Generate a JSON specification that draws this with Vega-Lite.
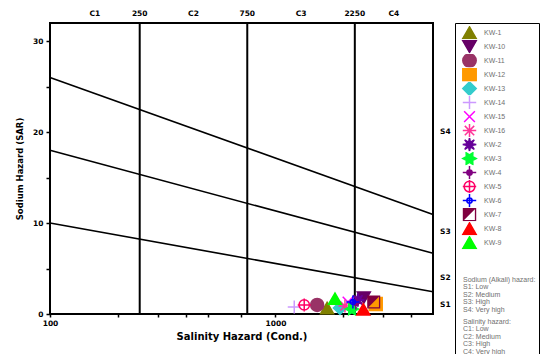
{
  "$schema": "https://vega.github.io/schema/vega-lite/v6.json",
  "width": 383,
  "height": 291,
  "autosize": "none",
  "padding": {"left": 50, "top": 23, "right": 110, "bottom": 40},
  "background": "white",
  "config": {
    "view": {"stroke": "black", "strokeWidth": 2},
    "axis": {
      "grid": false,
      "domain": false,
      "labelFont": "DejaVu Sans",
      "labelFontWeight": "bold",
      "labelFontSize": 7.5,
      "labelColor": "black",
      "tickColor": "black",
      "tickWidth": 1.5,
      "titleFont": "DejaVu Sans",
      "titleFontWeight": "bold",
      "titleColor": "black",
      "labelFlush": false,
      "labelOverlap": false
    }
  },
  "datasets": {
    "boundaries": [
      {"boundary": "S1/S2", "ec": 100, "sar": 10.0},
      {"boundary": "S1/S2", "ec": 5000, "sar": 2.45},
      {"boundary": "S2/S3", "ec": 100, "sar": 18.0},
      {"boundary": "S2/S3", "ec": 5000, "sar": 6.67},
      {"boundary": "S3/S4", "ec": 100, "sar": 26.0},
      {"boundary": "S3/S4", "ec": 5000, "sar": 10.95}
    ],
    "cuts": [
      {"ec": 250},
      {"ec": 750},
      {"ec": 2250}
    ],
    "classTop": [
      {"label": "C1", "ec": 158},
      {"label": "250", "ec": 250},
      {"label": "C2", "ec": 433},
      {"label": "750", "ec": 750},
      {"label": "C3", "ec": 1299},
      {"label": "2250", "ec": 2250},
      {"label": "C4", "ec": 3354}
    ],
    "classRight": [
      {"label": "S1", "sar": 1},
      {"label": "S2", "sar": 4},
      {"label": "S3", "sar": 9},
      {"label": "S4", "sar": 20}
    ],
    "samples": [
      {"sample": "KW-1", "ec": 1695, "sar": 0.66},
      {"sample": "KW-10", "ec": 2466, "sar": 1.79},
      {"sample": "KW-11", "ec": 1531, "sar": 1.0},
      {"sample": "KW-12", "ec": 2785, "sar": 1.1},
      {"sample": "KW-13", "ec": 1933, "sar": 0.66},
      {"sample": "KW-14", "ec": 1212, "sar": 0.77},
      {"sample": "KW-15", "ec": 2097, "sar": 1.32},
      {"sample": "KW-16", "ec": 2034, "sar": 0.88},
      {"sample": "KW-2", "ec": 2321, "sar": 1.54},
      {"sample": "KW-3", "ec": 2184, "sar": 0.55},
      {"sample": "KW-4", "ec": 2274, "sar": 1.21},
      {"sample": "KW-5", "ec": 1342, "sar": 1.0},
      {"sample": "KW-6", "ec": 2206, "sar": 1.32},
      {"sample": "KW-7", "ec": 2729, "sar": 1.32},
      {"sample": "KW-8", "ec": 2455, "sar": 0.52},
      {"sample": "KW-9", "ec": 1837, "sar": 1.68}
    ]
  },
  "layer": [
    {
      "data": {"name": "boundaries"},
      "mark": {"type": "line", "color": "black", "strokeWidth": 1.6},
      "encoding": {
        "x": {
          "field": "ec", "type": "quantitative",
          "scale": {"type": "log", "domain": [100, 5000], "nice": false},
          "axis": {
            "values": [100, 200, 300, 400, 500, 700, 1000, 2000, 3000, 4000],
            "labelExpr": "datum.value == 100 ? '100' : (datum.value == 1000 ? '1000' : '')",
            "tickSize": 3,
            "labelPadding": 2,
            "title": "Salinity Hazard (Cond.)",
            "titleFontSize": 10,
            "titlePadding": 5
          }
        },
        "y": {
          "field": "sar", "type": "quantitative",
          "scale": {"domain": [0, 32], "nice": false, "zero": false},
          "axis": {
            "values": [0, 5, 10, 15, 20, 25, 30],
            "labelExpr": "datum.value % 10 == 0 ? datum.label : ''",
            "tickSize": 4,
            "labelPadding": 3,
            "title": "Sodium Hazard (SAR)",
            "titleFontSize": 8.5,
            "titlePadding": 8
          }
        },
        "detail": {"field": "boundary", "type": "nominal"}
      }
    },
    {
      "data": {"name": "cuts"},
      "mark": {"type": "rule", "color": "black", "strokeWidth": 2},
      "encoding": {
        "x": {"field": "ec", "type": "quantitative"}
      }
    },
    {
      "data": {"name": "classTop"},
      "mark": {"type": "text", "font": "DejaVu Sans", "fontWeight": "bold", "fontSize": 7.5, "color": "black", "baseline": "middle", "align": "center", "dy": -9},
      "encoding": {
        "x": {"field": "ec", "type": "quantitative"},
        "y": {"datum": 32, "type": "quantitative"},
        "text": {"field": "label"}
      }
    },
    {
      "data": {"name": "classRight"},
      "mark": {"type": "text", "font": "DejaVu Sans", "fontWeight": "bold", "fontSize": 7.5, "color": "black", "baseline": "middle", "align": "left", "dx": 7},
      "encoding": {
        "x": {"datum": 5000, "type": "quantitative"},
        "y": {"field": "sar", "type": "quantitative"},
        "text": {"field": "label"}
      }
    },
    {
      "data": {"name": "samples"},
      "mark": {"type": "point", "filled": true, "size": 170, "strokeWidth": 1.5, "opacity": 1},
      "encoding": {
        "x": {"field": "ec", "type": "quantitative"},
        "y": {"field": "sar", "type": "quantitative"},
        "color": {
          "field": "sample", "type": "nominal",
          "scale": {
            "domain": ["KW-1", "KW-10", "KW-11", "KW-12", "KW-13", "KW-14", "KW-15", "KW-16", "KW-2", "KW-3", "KW-4", "KW-5", "KW-6", "KW-7", "KW-8", "KW-9", "Sodium (Alkali) hazard:\nS1: Low\nS2: Medium\nS3: High\nS4: Very high", "Salinity hazard:\nC1: Low\nC2: Medium\nC3: High\nC4: Very high"],
            "range": ["#808000", "#660066", "#993366", "#ff9900", "#33cccc", "#cc99ff", "#ff00ff", "#ff3399", "#660099", "#00ff33", "#800080", "transparent", "transparent", "#800040", "#ff0000", "#00ff00", "transparent", "transparent"]
          },
          "legend": {
            "title": null,
            "orient": "none",
            "legendX": 405,
            "legendY": 0,
            "direction": "vertical",
            "strokeColor": "black",
            "padding": 3,
            "symbolSize": 180,
            "symbolOffset": 4,
            "symbolOpacity": 1,
            "symbolStrokeWidth": 1.5,
            "clipHeight": 13.2,
            "labelOffset": 7,
            "labelFont": "Liberation Sans",
            "labelFontSize": 7,
            "labelColor": "#707070",
            "labelLimit": 200,
            "rowPadding": 0,
            "encode": {
              "labels": {"update": {
                "dx": {"signal": "indexof(datum.value, 'KW') == 0 ? 0 : -21"},
                "dy": {"signal": "indexof(datum.value, 'KW') == 0 ? 0 : (indexof(datum.value, 'Sodium') == 0 ? 23 : 2)"},
                "lineBreak": {"value": "\n"},
                "lineHeight": {"value": 7.5}
              }}
            }
          }
        },
        "stroke": {
          "field": "sample", "type": "nominal",
          "scale": {
            "domain": ["KW-1", "KW-10", "KW-11", "KW-12", "KW-13", "KW-14", "KW-15", "KW-16", "KW-2", "KW-3", "KW-4", "KW-5", "KW-6", "KW-7", "KW-8", "KW-9", "Sodium (Alkali) hazard:\nS1: Low\nS2: Medium\nS3: High\nS4: Very high", "Salinity hazard:\nC1: Low\nC2: Medium\nC3: High\nC4: Very high"],
            "range": ["#808000", "#660066", "#993366", "#ff9900", "#33cccc", "#cc99ff", "#ff00ff", "#ff3399", "#660099", "#00ff33", "#800080", "#ff0066", "#0000ff", "transparent", "#ff0000", "#00ff00", "transparent", "transparent"]
          }
        },
        "shape": {
          "field": "sample", "type": "nominal",
          "scale": {
            "domain": ["KW-1", "KW-10", "KW-11", "KW-12", "KW-13", "KW-14", "KW-15", "KW-16", "KW-2", "KW-3", "KW-4", "KW-5", "KW-6", "KW-7", "KW-8", "KW-9", "Sodium (Alkali) hazard:\nS1: Low\nS2: Medium\nS3: High\nS4: Very high", "Salinity hazard:\nC1: Low\nC2: Medium\nC3: High\nC4: Very high"],
            "range": [
              "triangle-up",
              "triangle-down",
              "circle",
              "square",
              "diamond",
              "M-1,0L1,0M0,-1L0,1",
              "M-0.8,-0.8L0.8,0.8M-0.8,0.8L0.8,-0.8",
              "M-1,0L1,0M0,-1L0,1M-0.7,-0.7L0.7,0.7M-0.7,0.7L0.7,-0.7",
              "M1,0L0.323,0.134L0.707,0.707L0.134,0.323L0,1L-0.134,0.323L-0.707,0.707L-0.323,0.134L-1,0L-0.323,-0.134L-0.707,-0.707L-0.134,-0.323L0,-1L0.134,-0.323L0.707,-0.707L0.323,-0.134Z",
              "M1,0L0.476,0.275L0.5,0.866L0,0.55L-0.5,0.866L-0.476,0.275L-1,0L-0.476,-0.275L-0.5,-0.866L0,-0.55L0.5,-0.866L0.476,-0.275Z",
              "M-1,0L1,0M0,-1L0,1M0.4,0A0.4,0.4 0 1,1 -0.4,0A0.4,0.4 0 1,1 0.4,0Z",
              "M0.8,0A0.8,0.8 0 1,1 -0.8,0A0.8,0.8 0 1,1 0.8,0ZM-1,0L1,0M0,-1L0,1",
              "M0.4,0A0.4,0.4 0 1,1 -0.4,0A0.4,0.4 0 1,1 0.4,0ZM-1,0L1,0M0,-1L0,1",
              "M-1,-1L1,-1L1,1L-1,1ZM-0.8,-0.8L-0.8,0.8L0.8,0.8L0.8,-0.8ZM-0.8,-0.8L0.8,-0.8L-0.8,0.8Z",
              "triangle-up",
              "triangle-up",
              "circle", "circle"
            ]
          }
        }
      }
    }
  ]
}
